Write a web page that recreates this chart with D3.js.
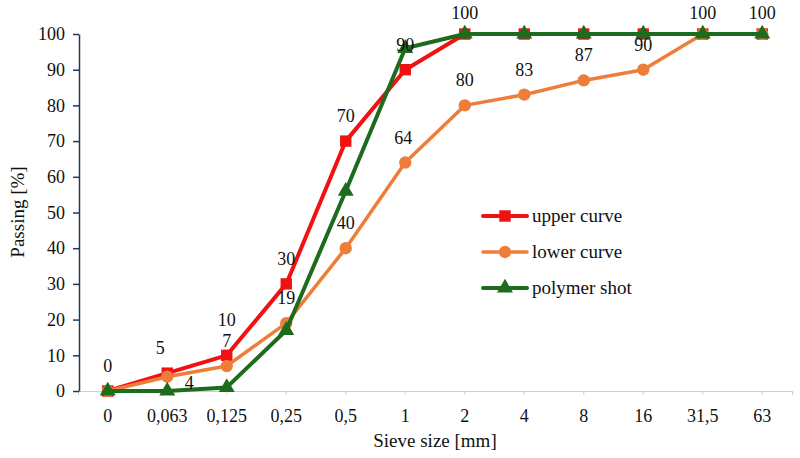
<!DOCTYPE html>
<html>
<head>
<meta charset="utf-8">
<script src="https://cdn.jsdelivr.net/npm/d3@7"></script>
<style>
  body { margin: 0; background: #fff; }
  svg text { font-family: 'Liberation Serif', 'Times New Roman', Tinos, 'DejaVu Serif', 'Noto Serif', serif !important; fill: #111; }
</style>
</head>
<body>
<svg id="chart" width="800" height="458"></svg>
<script>
"use strict";

// sieve sizes (categorical axis)
const sieveSizes = ['0', '0,063', '0,125', '0,25', '0,5', '1', '2', '4', '8', '16', '31,5', '63'];
const yTicks = [0, 10, 20, 30, 40, 50, 60, 70, 80, 90, 100];

const upperCurve = [0, 5, 10, 30, 70, 90, 100, 100, 100, 100, 100, 100];
const lowerCurve = [0, 4, 7, 19, 40, 64, 80, 83, 87, 90, 100, 100];
const polymerShot = [0, 0, 1, 17, 56, 96, 100, 100, 100, 100, 100, 100];

// which points carry a data label (null = none)
const upperLabels = ['0', '5', '10', '30', '70', '90', '100', null, null, null, null, null];
const lowerLabels = [null, '4', '7', '19', '40', '64', '80', '83', '87', '90', '100', '100'];

const svg = d3.select('#chart');
const margin = { left: 78, right: 8, top: 34, bottom: 67 };
const W = 800, H = 458;

const x = d3.scaleBand()
  .domain(sieveSizes)
  .range([margin.left, W - margin.right]);

const y = d3.scaleLinear()
  .domain([0, 100])
  .range([H - margin.bottom, margin.top]);

const cx = (d, i) => x(sieveSizes[i]) + x.bandwidth() / 2;

// x axis: light grey line with small ticks
const xAxis = svg.append('g')
  .attr('transform', 'translate(0,' + y(0) + ')')
  .call(d3.axisBottom(x).tickSize(4).tickPadding(14));
xAxis.select('.domain').attr('stroke', '#d0d0d0').attr('stroke-width', 1.2);
xAxis.selectAll('.tick line').attr('stroke', '#d0d0d0');
xAxis.selectAll('.tick text')
  .attr('font-size', '18px')
  .attr('fill', '#111');

// y axis: dark navy line
const yAxis = svg.append('g')
  .attr('transform', 'translate(' + (margin.left + 1) + ',0)')
  .call(d3.axisLeft(y).tickValues(yTicks).tickSize(6).tickPadding(8).tickSizeOuter(0));
yAxis.select('.domain').attr('stroke', '#1f3a5c').attr('stroke-width', 1.5);
yAxis.selectAll('.tick line').attr('stroke', '#1f3a5c').attr('stroke-width', 1.5);
yAxis.selectAll('.tick text')
  .attr('font-size', '18px')
  .attr('fill', '#111');

// axis titles
svg.append('text')
  .attr('x', 435).attr('y', 447)
  .attr('text-anchor', 'middle')
  .attr('font-size', '19px')
  .text('Sieve size [mm]');

svg.append('text')
  .attr('transform', 'translate(24,212) rotate(-90)')
  .attr('text-anchor', 'middle')
  .attr('font-size', '19px')
  .text('Passing [%]');

const series = [
  { name: 'upper curve', values: upperCurve, color: '#f01212', width: 4, shape: d3.symbolSquare, size: 130 },
  { name: 'lower curve', values: lowerCurve, color: '#ee7d3a', width: 3.5, shape: d3.symbolCircle, size: 120 },
  { name: 'polymer shot', values: polymerShot, color: '#1d6b1d', width: 4, shape: d3.symbolTriangle, size: 110 }
];

const line = d3.line()
  .x(cx)
  .y(d => y(d));

series.forEach(s => {
  const g = svg.append('g');
  g.append('path')
    .datum(s.values)
    .attr('fill', 'none')
    .attr('stroke', s.color)
    .attr('stroke-width', s.width)
    .attr('stroke-linejoin', 'round')
    .attr('d', line);
  g.selectAll('path.marker')
    .data(s.values)
    .enter()
    .append('path')
    .attr('class', 'marker')
    .attr('fill', s.color)
    .attr('transform', (d, i) => 'translate(' + cx(d, i) + ',' + y(d) + ')')
    .attr('d', d3.symbol().type(s.shape).size(s.size));
});

// data labels (nudge = pixel shift for crowded labels)
function drawLabels(values, labels, nudge) {
  const pts = values
    .map((v, i) => ({ v: v, i: i, label: labels[i] }))
    .filter(p => p.label !== null);
  svg.append('g').selectAll('text')
    .data(pts)
    .enter()
    .append('text')
    .attr('x', p => cx(p.v, p.i) + (nudge[p.i] ? nudge[p.i][0] : 0))
    .attr('y', p => y(p.v) - 19 + (nudge[p.i] ? nudge[p.i][1] : 0))
    .attr('text-anchor', 'middle')
    .attr('font-size', '18px')
    .text(p => p.label);
}

drawLabels(upperCurve, upperLabels, { 1: [-7, 0], 2: [0, -10], 6: [0, 4] });
drawLabels(lowerCurve, lowerLabels, { 1: [22, 31], 5: [-2, 0], 10: [0, 4], 11: [0, 4] });

// legend
const legend = svg.append('g').attr('transform', 'translate(483,216)');
series.forEach((s, i) => {
  const row = legend.append('g').attr('transform', 'translate(0,' + (i * 36) + ')');
  row.append('line')
    .attr('x1', 0).attr('x2', 44)
    .attr('stroke', s.color)
    .attr('stroke-width', s.width)
    .attr('stroke-linecap', 'round');
  row.append('path')
    .attr('transform', 'translate(22,0)')
    .attr('fill', s.color)
    .attr('d', d3.symbol().type(s.shape).size(s.size));
  row.append('text')
    .attr('x', 49).attr('y', 6)
    .attr('font-size', '19px')
    .text(s.name);
});
</script>
</body>
</html>
